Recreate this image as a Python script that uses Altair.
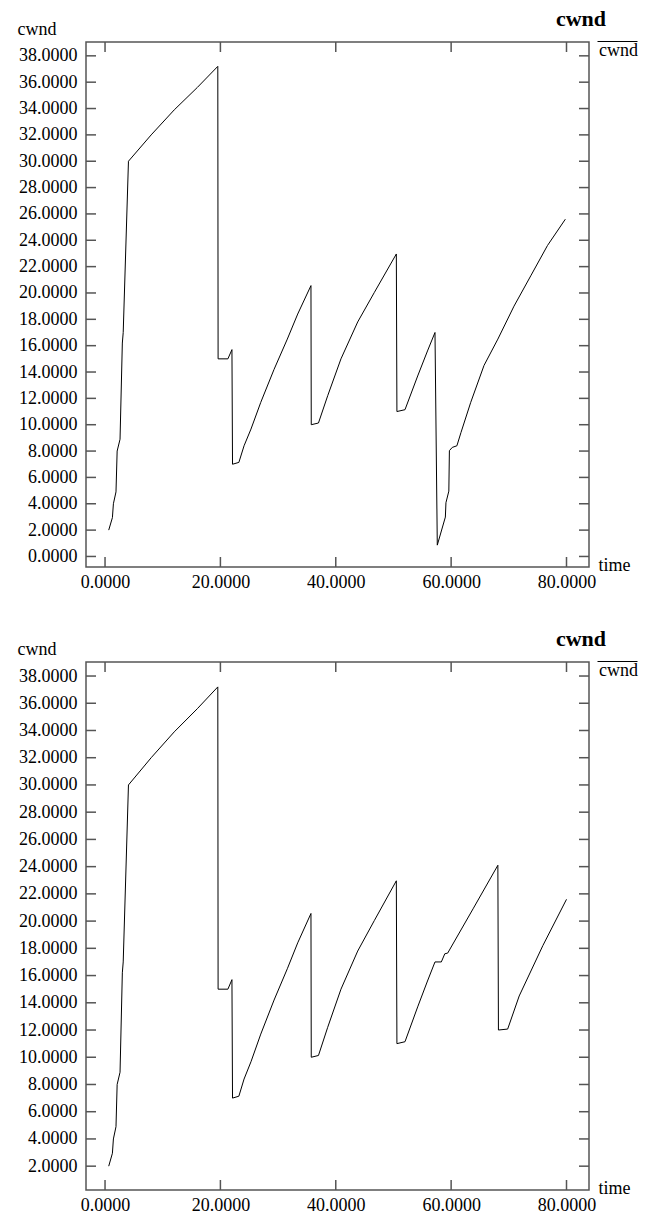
import altair as alt
import pandas as pd

# ---- data ----
common_time = [0.64, 1.28, 1.45, 1.9, 2.1, 2.6, 3.0, 3.15, 4.06, 8.0, 12.0, 16.0, 19.55,
               19.6, 21.3, 22.0, 22.1, 23.2, 24.1, 25.3, 27.0, 29.3, 31.6, 33.4, 35.7,
               35.75, 37.0, 38.6, 40.9, 43.8, 46.7, 50.5, 50.6, 52.0, 54.2]
common_cwnd = [2.0, 2.95, 4.0, 4.9, 8.0, 8.9, 16.2, 17.0, 30.0, 32.0, 33.9, 35.6, 37.2,
               15.0, 15.0, 15.7, 7.0, 7.14, 8.4, 9.67, 11.7, 14.2, 16.5, 18.4, 20.56,
               10.0, 10.13, 12.2, 15.0, 17.8, 20.05, 22.96, 11.0, 11.14, 13.7]

top_tail_time = [55.9, 57.2, 57.6, 59.0, 59.1, 59.6, 59.7, 60.2, 61.0, 61.7, 63.4, 65.7,
                 68.1, 70.9, 73.8, 76.7, 79.8]
top_tail_cwnd = [15.6, 17.0, 0.86, 2.99, 4.08, 4.96, 8.03, 8.28, 8.4, 9.4, 11.7, 14.5,
                 16.5, 19.0, 21.3, 23.6, 25.6]

bottom_tail_time = [55.9, 57.2, 58.3, 58.9, 59.4, 63.8, 68.1, 68.2, 69.8, 71.8, 75.9, 80.0]
bottom_tail_cwnd = [15.6, 17.0, 17.0, 17.6, 17.65, 20.9, 24.1, 12.0, 12.07, 14.5, 18.2, 21.6]

x_ticks = [0, 20, 40, 60, 80]
top_y_ticks = [0, 2, 4, 6, 8, 10, 12, 14, 16, 18, 20, 22, 24, 26, 28, 30, 32, 34, 36, 38]
bottom_y_ticks = [2, 4, 6, 8, 10, 12, 14, 16, 18, 20, 22, 24, 26, 28, 30, 32, 34, 36, 38]

x_domain = [-3.3, 83.9]
top_y_domain = [-0.8, 39.05]
bottom_y_domain = [0.25, 39.03]

FONT = "Liberation Serif"
FRAME = "#555555"
W = 503
TICK = 10


def panel(times, cwnd, y_domain, y_ticks, height):
    df = pd.DataFrame({"time": times, "cwnd": cwnd,
                       "order": list(range(len(times))), "series": ["cwnd"] * len(times)})
    xs = alt.Scale(domain=x_domain, nice=False, zero=False)
    ys = alt.Scale(domain=y_domain, nice=False, zero=False)
    x_axis = alt.Axis(values=x_ticks, format=".4f", ticks=False, domain=False, grid=False,
                      labelOverlap=False, labelPadding=6, title="time", titleX=W + 9,
                      titleY=3, titleAlign="left", titleBaseline="alphabetic", titleAngle=0)
    y_axis = alt.Axis(values=y_ticks, format=".4f", ticks=False, domain=False, grid=False,
                      labelOverlap=False, labelPadding=9, title="cwnd", titleAngle=0,
                      titleX=-69, titleY=-8, titleAlign="left", titleBaseline="alphabetic")

    line = alt.Chart(df).mark_line(strokeWidth=1, clip=True).encode(
        x=alt.X("time:Q", scale=xs, axis=x_axis),
        y=alt.Y("cwnd:Q", scale=ys, axis=y_axis),
        order=alt.Order("order:Q"),
        color=alt.Color("series:N", scale=alt.Scale(range=["black"]),
                        legend=alt.Legend(title=None, orient="none", legendX=W + 8, legendY=-21,
                                          symbolType="stroke", symbolSize=1600,
                                          symbolStrokeWidth=1, symbolStrokeColor="black",
                                          labelAlign="right", labelBaseline="top",
                                          labelOffset=0, padding=0,
                                          labelFontSize=18, labelFont=FONT,
                                          labelColor="black")),
    )

    ydf = pd.DataFrame({"cwnd": y_ticks})
    xdf = pd.DataFrame({"time": x_ticks})
    rule_style = dict(color=FRAME, strokeWidth=1.5)
    left = alt.Chart(ydf).mark_rule(**rule_style).encode(
        y=alt.Y("cwnd:Q", scale=ys, axis=y_axis), x=alt.value(0), x2=alt.value(TICK))
    right = alt.Chart(ydf).mark_rule(**rule_style).encode(
        y=alt.Y("cwnd:Q", scale=ys, axis=y_axis), x=alt.value(W), x2=alt.value(W - TICK))
    bottom = alt.Chart(xdf).mark_rule(**rule_style).encode(
        x=alt.X("time:Q", scale=xs, axis=x_axis), y=alt.value(height),
        y2=alt.value(height - TICK))
    top = alt.Chart(xdf).mark_rule(**rule_style).encode(
        x=alt.X("time:Q", scale=xs, axis=x_axis), y=alt.value(0), y2=alt.value(TICK))

    return alt.layer(line, left, right, bottom, top).properties(
        width=W, height=height,
        title=alt.TitleParams("cwnd", anchor="end", frame="group", dx=17, dy=28, offset=0,
                              fontSize=22, fontWeight="bold", font=FONT, color="black",
                              baseline="alphabetic"),
    )


top_panel = panel(common_time + top_tail_time, common_cwnd + top_tail_cwnd,
                  top_y_domain, top_y_ticks, 525)
bottom_panel = panel(common_time + bottom_tail_time, common_cwnd + bottom_tail_cwnd,
                     bottom_y_domain, bottom_y_ticks, 528)

chart = alt.vconcat(top_panel, bottom_panel, spacing=95, bounds="flush").resolve_scale(
    x="independent", y="independent", color="independent"
).resolve_legend(color="independent").properties(
    padding={"left": 16, "top": 7, "right": 0, "bottom": 0},
    background="white",
).configure_view(
    stroke=FRAME, strokeWidth=1.5
).configure_axis(
    labelFont=FONT, labelFontSize=18, labelColor="black", labelOverlap=False,
    titleFont=FONT, titleFontSize=18, titleFontWeight="normal", titleColor="black",
)

chart.save("out.html", embed_options={"renderer": "svg", "actions": False})
